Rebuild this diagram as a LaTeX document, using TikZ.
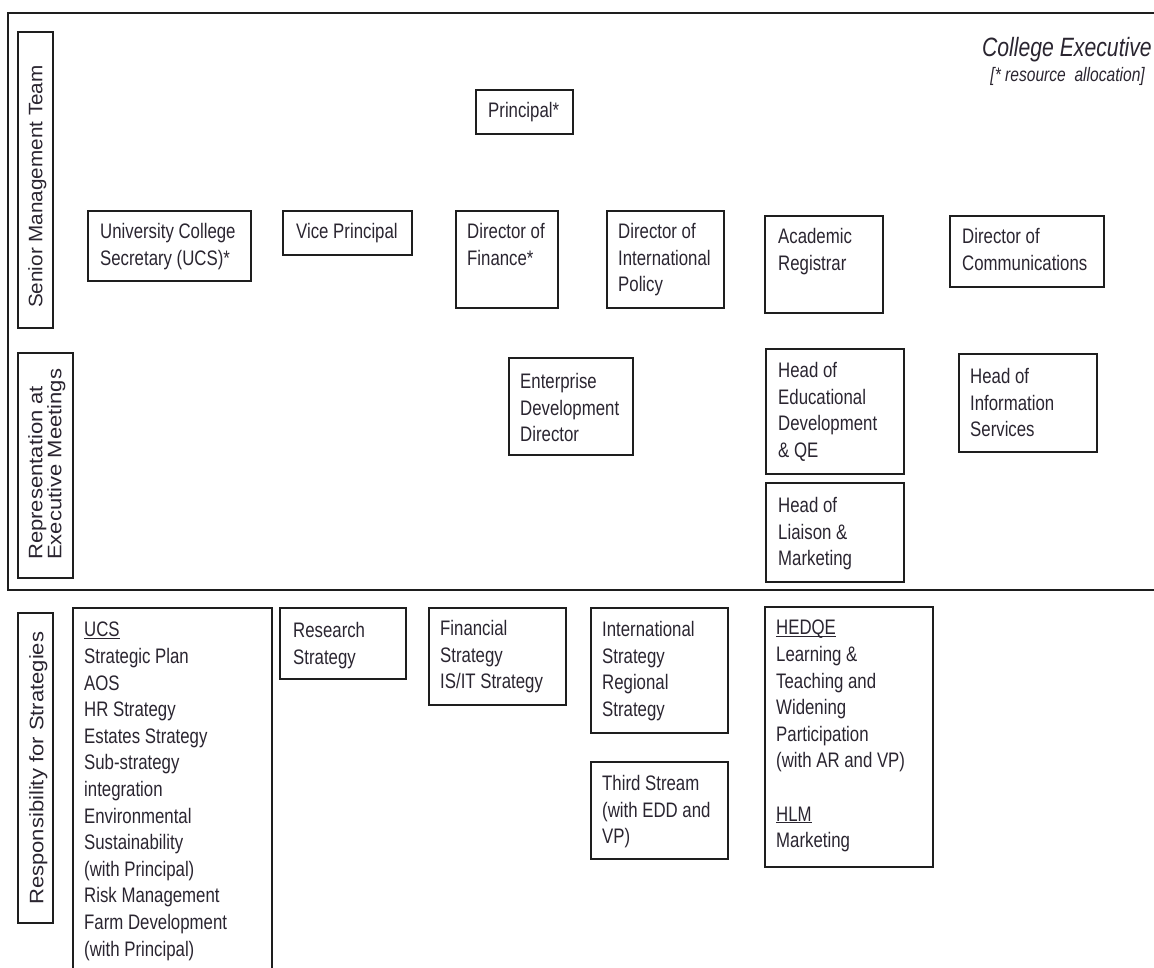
\documentclass[tikz,border=0pt]{standalone}
\usepackage{fontspec}
\setmainfont{Liberation Sans}[FakeStretch=0.8]
\newfontfamily\sidefont{Liberation Sans}[FakeStretch=1.13]
\newfontfamily\sidefontnarrow{Liberation Sans}[FakeStretch=1.06]
\definecolor{ink}{HTML}{2A2530}
\definecolor{rule}{HTML}{1E1E1E}
\newcommand\boxfont{\fontsize{21pt}{26.6pt}\selectfont}
\newcommand\sidesize{\sidefont\fontsize{19.5pt}{19pt}\selectfont}
\newcommand\sidesizenarrow{\sidefontnarrow\fontsize{19.5pt}{19pt}\selectfont}
% underline set close to the baseline
\newcommand\ul[1]{\setbox0\hbox{#1}\leavevmode\rlap{\rule[-2pt]{\wd0}{1.2pt}}\box0}
% \orgbox[text offset]{name}{x1}{y1}{x2}{y2}{text}
\newcommand\orgbox[7][12,13]{%
  \node[orgbox, minimum width={#5pt-#3pt}, minimum height={#6pt-#4pt}] (#2) at (#3,#4) {};
  \node[boxtext] (#2-text) at ([shift={(#1)}]#2.north west) {#7};
}
\begin{document}
\begin{tikzpicture}[x=1pt, y=-1pt,
  orgbox/.style={draw=rule, line width=1.4pt, rectangle, inner sep=0pt, outer sep=0pt, anchor=north west},
  boxtext/.style={anchor=north west, inner sep=0pt, align=left, font=\boxfont, text=ink},
  sidetext/.style={rotate=90, anchor=north west, inner sep=0pt, align=left, font=\sidesize, text=ink},
  frame/.style={draw=rule, line width=1.8pt}]
\useasboundingbox (0,0) rectangle (1154,968);

% executive frame (open on the right)
\coordinate (frTR) at (1154,13);
\coordinate (frTL) at (8,13);
\coordinate (frBL) at (8,590);
\coordinate (frBR) at (1154,590);
\draw[frame] (frTR) -- (frTL) -- (frBL) -- (frBR);

% heading
\node[anchor=base east, inner sep=0pt, text=ink, font=\itshape\fontsize{26.5pt}{26.5pt}\selectfont] (head) at (1152,57) {College Executive};
\node[anchor=base east, inner sep=0pt, text=ink, font=\itshape\fontsize{19.5pt}{19.5pt}\selectfont] (headnote) at (1145,82) {[* resource\ \ allocation]};

% row labels
\node[orgbox, minimum width=35pt, minimum height=296pt] (smt) at (18,32) {};
\node[sidetext, font=\sidesizenarrow] (smt-text) at (28,308) {Senior Management Team};
\node[orgbox, minimum width=55pt, minimum height=225pt] (rem) at (18,353) {};
\node[sidetext] (rem-text) at (28,560) {Representation at\\Executive Meetings};
\node[orgbox, minimum width=35pt, minimum height=310pt] (rfs) at (18,613) {};
\node[sidetext] (rfs-text) at (29,905) {Responsibility for Strategies};

% senior management team
\orgbox[12,12]{principal}{476}{90}{573}{134}{Principal*}
\orgbox[12,12]{ucs}{88}{211}{251}{281}{University College\\Secretary (UCS)*}
\orgbox[13,12]{vp}{283}{211}{412}{255}{Vice Principal}
\orgbox[11,12]{dof}{456}{211}{558}{308}{Director of\\Finance*}
\orgbox[11,12]{dip}{607}{211}{724}{308}{Director of\\International\\Policy}
\orgbox[13,12]{ar}{765}{216}{883}{313}{Academic\\Registrar}
\orgbox[12,12]{doc}{950}{216}{1104}{287}{Director of\\Communications}

% representation at executive meetings
\orgbox[11,15]{edd}{509}{358}{633}{455}{Enterprise\\Development\\Director}
\orgbox[12,13]{hedqe}{766}{349}{904}{474}{Head of\\Educational\\Development\\\& QE}
\orgbox[11,14]{his}{959}{354}{1097}{452}{Head of\\Information\\Services}
\orgbox[12,14]{hlm}{766}{483}{904}{582}{Head of\\Liaison \&\\Marketing}

% responsibility for strategies
\orgbox[11,14]{sucs}{73}{608}{272}{985}{\ul{UCS}\\Strategic Plan\\AOS\\HR Strategy\\Estates Strategy\\Sub-strategy\\integration\\Environmental\\Sustainability\\(with Principal)\\Risk Management\\Farm Development\\(with Principal)}
\orgbox[13,14]{sres}{280}{608}{406}{679}{Research\\Strategy}
\orgbox[11,12]{sfin}{429}{608}{566}{705}{Financial\\Strategy\\IS/IT Strategy}
\orgbox[11,13]{sint}{591}{608}{728}{733}{International\\Strategy\\Regional\\Strategy}
\orgbox[11,13]{sthird}{591}{762}{728}{859}{Third Stream\\(with EDD and\\VP)}
\orgbox[11,13]{shedqe}{765}{607}{933}{867}{\ul{HEDQE}\\Learning \&\\Teaching and\\Widening\\Participation\\(with AR and VP)\\[26.6pt]\ul{HLM}\\Marketing}
\end{tikzpicture}
\end{document}
